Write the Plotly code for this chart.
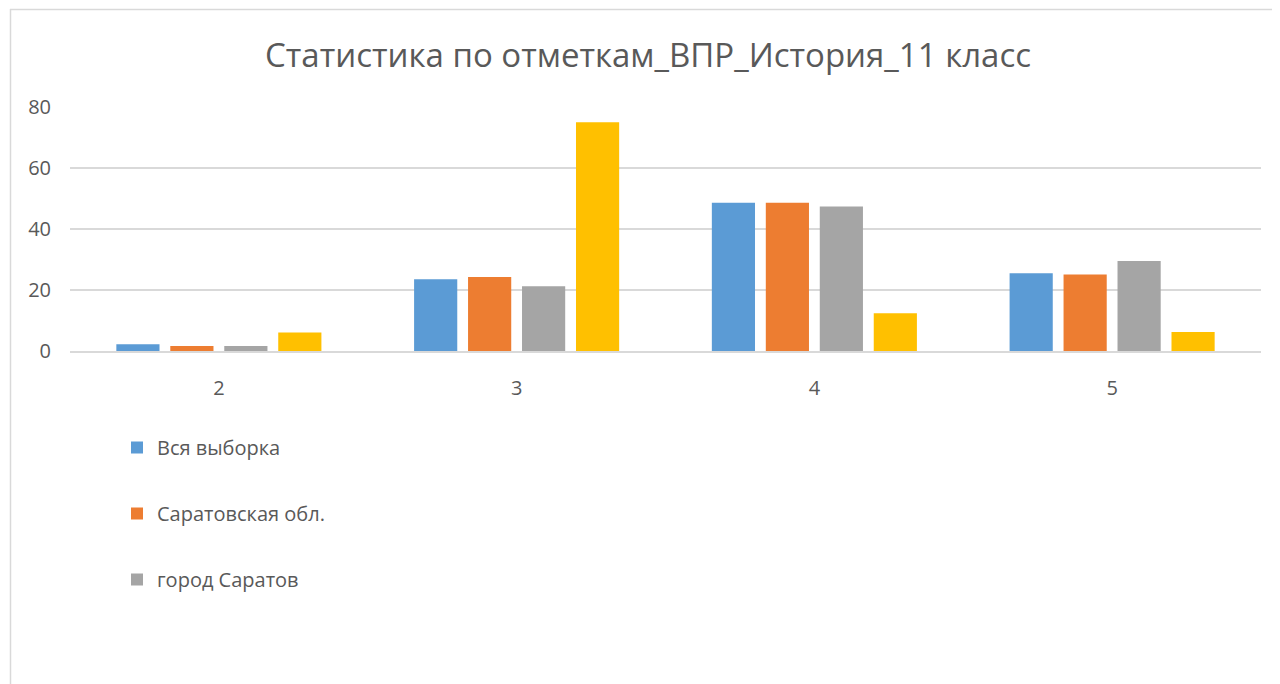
import plotly.graph_objects as go

categories = ["2", "3", "4", "5"]
series_names = ["Вся выборка", "Саратовская обл.", "город Саратов", "Школа"]
vsya_vyborka = [2.2, 23.5, 48.6, 25.5]
saratovskaya_obl = [1.6, 24.3, 48.6, 25.1]
gorod_saratov = [1.6, 21.2, 47.4, 29.5]
shkola = [6.1, 75.0, 12.4, 6.2]
y_ticks = [0, 20, 40, 60, 80]

colors = ["#5B9BD5", "#ED7D31", "#A5A5A5", "#FFC000"]
values = [vsya_vyborka, saratovskaya_obl, gorod_saratov, shkola]
show = [True, True, True, False]

fig = go.Figure()
for i, (name, vals) in enumerate(zip(series_names, values)):
    fig.add_trace(go.Bar(
        x=categories, y=vals, name=name,
        marker=dict(color=colors[i], line=dict(width=0)),
        showlegend=show[i], legendgroup=f"g{i}",
    ))

OFF = 8  # page body margin
W, H = 1280 - OFF, 684 - OFF
L = 70 - OFF
R = W - (1261 - OFF)
T = 107 - OFF
B = H - (351 - OFF)
pw = W - L - R
ph = H - T - B

def px_to_paper_x(px):
    return (px - OFF - L) / pw

def px_to_paper_y(py):
    return (H - B - (py - OFF)) / ph

fig.update_layout(
    width=W, height=H,
    margin=dict(l=L, r=R, t=T, b=B),
    paper_bgcolor="white", plot_bgcolor="white",
    barmode="group", bargap=0.275, bargroupgap=0.2,
    font=dict(family="Open Sans", color="#595959"),
    title=dict(text="Статистика по отметкам_ВПР_История_11 класс",
               x=(648 - OFF) / W, xanchor="center", xref="container",
               y=1 - (55 - OFF) / H, yanchor="middle", yref="container",
               font=dict(size=33, color="#595959", family="Open Sans")),
    xaxis=dict(type="category", showgrid=False, showline=True,
               linecolor="#D9D9D9", linewidth=1.5,
               ticks="outside", ticklen=18, tickcolor="rgba(0,0,0,0)",
               tickfont=dict(size=20, color="#595959")),
    yaxis=dict(range=[0, 80], tickvals=y_ticks, showgrid=True,
               gridcolor="#D9D9D9", gridwidth=1.5, zeroline=False,
               showline=False, ticks="outside", ticklen=14,
               tickcolor="rgba(0,0,0,0)",
               tickfont=dict(size=20, color="#595959")),
    legend=dict(orientation="v", x=px_to_paper_x(117), xanchor="left",
                y=px_to_paper_y(428), yanchor="top",
                font=dict(size=20, color="#595959"),
                tracegroupgap=37, bgcolor="rgba(0,0,0,0)"),
    shapes=[
        dict(type="line", xref="paper", yref="paper",
             x0=px_to_paper_x(10), x1=px_to_paper_x(1300),
             y0=px_to_paper_y(9.5), y1=px_to_paper_y(9.5),
             line=dict(color="#D9D9D9", width=1.5)),
        dict(type="line", xref="paper", yref="paper",
             x0=px_to_paper_x(10.5), x1=px_to_paper_x(10.5),
             y0=px_to_paper_y(9), y1=px_to_paper_y(700),
             line=dict(color="#D9D9D9", width=1.5)),
    ],
)

fig.write_html("out.html")
